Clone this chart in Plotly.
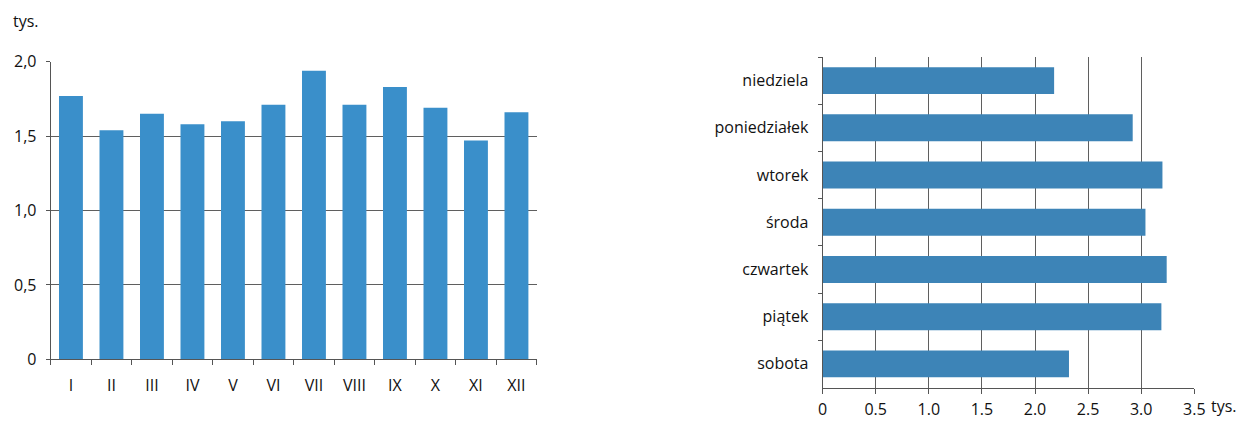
import plotly.graph_objects as go

months = ["I", "II", "III", "IV", "V", "VI", "VII", "VIII", "IX", "X", "XI", "XII"]
month_values = [1.77, 1.54, 1.65, 1.58, 1.60, 1.71, 1.94, 1.71, 1.83, 1.69, 1.47, 1.66]
left_tickvals = [0, 0.5, 1.0, 1.5, 2.0]
left_ticktext = ["0", "0,5", "1,0", "1,5", "2,0"]

days = ["niedziela", "poniedziałek", "wtorek", "środa", "czwartek", "piątek", "sobota"]
day_values = [2.18, 2.92, 3.20, 3.04, 3.24, 3.19, 2.32]
right_tickvals = [0, 0.5, 1.0, 1.5, 2.0, 2.5, 3.0, 3.5]
right_ticktext = ["0", "0.5", "1.0", "1.5", "2.0", "2.5", "3.0", "3.5"]

W, H = 1239, 421
FONT = "Open Sans"
FS = 16
TXT = "#111111"
GRID = "#5f5f5f"
AX = "#555555"

fig = go.Figure()
fig.add_trace(go.Bar(x=months, y=month_values, marker_color="#3a8fca",
                     marker_line_width=0, width=0.59, xaxis="x", yaxis="y",
                     hoverinfo="x+y"))
fig.add_trace(go.Bar(x=day_values, y=days, orientation="h", marker_color="#3d84b7",
                     marker_line_width=0, width=0.57, xaxis="x2", yaxis="y2",
                     hoverinfo="x+y"))

def px_x(p):
    return p / W

def px_y(p):
    return 1 - p / H

tf = dict(family=FONT, size=FS, color=TXT)

fig.update_layout(
    template="none",
    width=W, height=H,
    margin=dict(l=0, r=0, t=0, b=0, pad=0),
    paper_bgcolor="white", plot_bgcolor="white",
    showlegend=False,
    font=dict(family=FONT, size=FS, color=TXT),
    xaxis=dict(domain=[px_x(50.7), px_x(536.7)], anchor="y", automargin=False,
               type="category", categoryorder="array", categoryarray=months,
               showline=True, linecolor=AX, linewidth=1,
               ticks="outside", tickson="boundaries", ticklen=5, tickcolor=AX,
               showgrid=False, ticklabelstandoff=11, tickfont=tf),
    yaxis=dict(domain=[px_y(359.3), px_y(61.7)], anchor="x", automargin=False,
               range=[0, 2.0], tickvals=left_tickvals, ticktext=left_ticktext,
               showline=True, linecolor=AX, linewidth=1,
               ticks="outside", ticklen=4, tickcolor=AX,
               showgrid=True, gridcolor=GRID, gridwidth=1, zeroline=False,
               ticklabelstandoff=6, tickfont=tf),
    xaxis2=dict(domain=[px_x(822.6), px_x(1194.3)], anchor="y2", automargin=False,
                range=[0, 3.5], tickvals=right_tickvals, ticktext=right_ticktext,
                showline=True, linecolor=AX, linewidth=1,
                ticks="outside", ticklen=5, tickcolor=AX,
                showgrid=True, gridcolor=GRID, gridwidth=1, zeroline=False,
                ticklabelstandoff=2, tickfont=tf),
    yaxis2=dict(domain=[px_y(387.5), px_y(57.0)], anchor="x2", automargin=False,
                type="category", categoryorder="array", categoryarray=days,
                autorange="reversed",
                showline=True, linecolor=AX, linewidth=1,
                ticks="outside", tickson="boundaries", ticklen=4, tickcolor=AX,
                showgrid=False, ticklabelstandoff=10, tickfont=tf),
    annotations=[
        dict(text="tys.", xref="paper", yref="paper", x=px_x(11), y=px_y(21),
             xanchor="left", yanchor="middle", showarrow=False, font=tf),
        dict(text="tys.", xref="x2", yref="paper", x=3.5, y=px_y(406),
             xanchor="left", yanchor="middle", xshift=15, showarrow=False, font=tf),
    ],
)

fig.write_html(
    "out.html",
    config={"displayModeBar": False},
    post_script="document.body.style.margin='0px';document.body.style.overflow='hidden';",
)
